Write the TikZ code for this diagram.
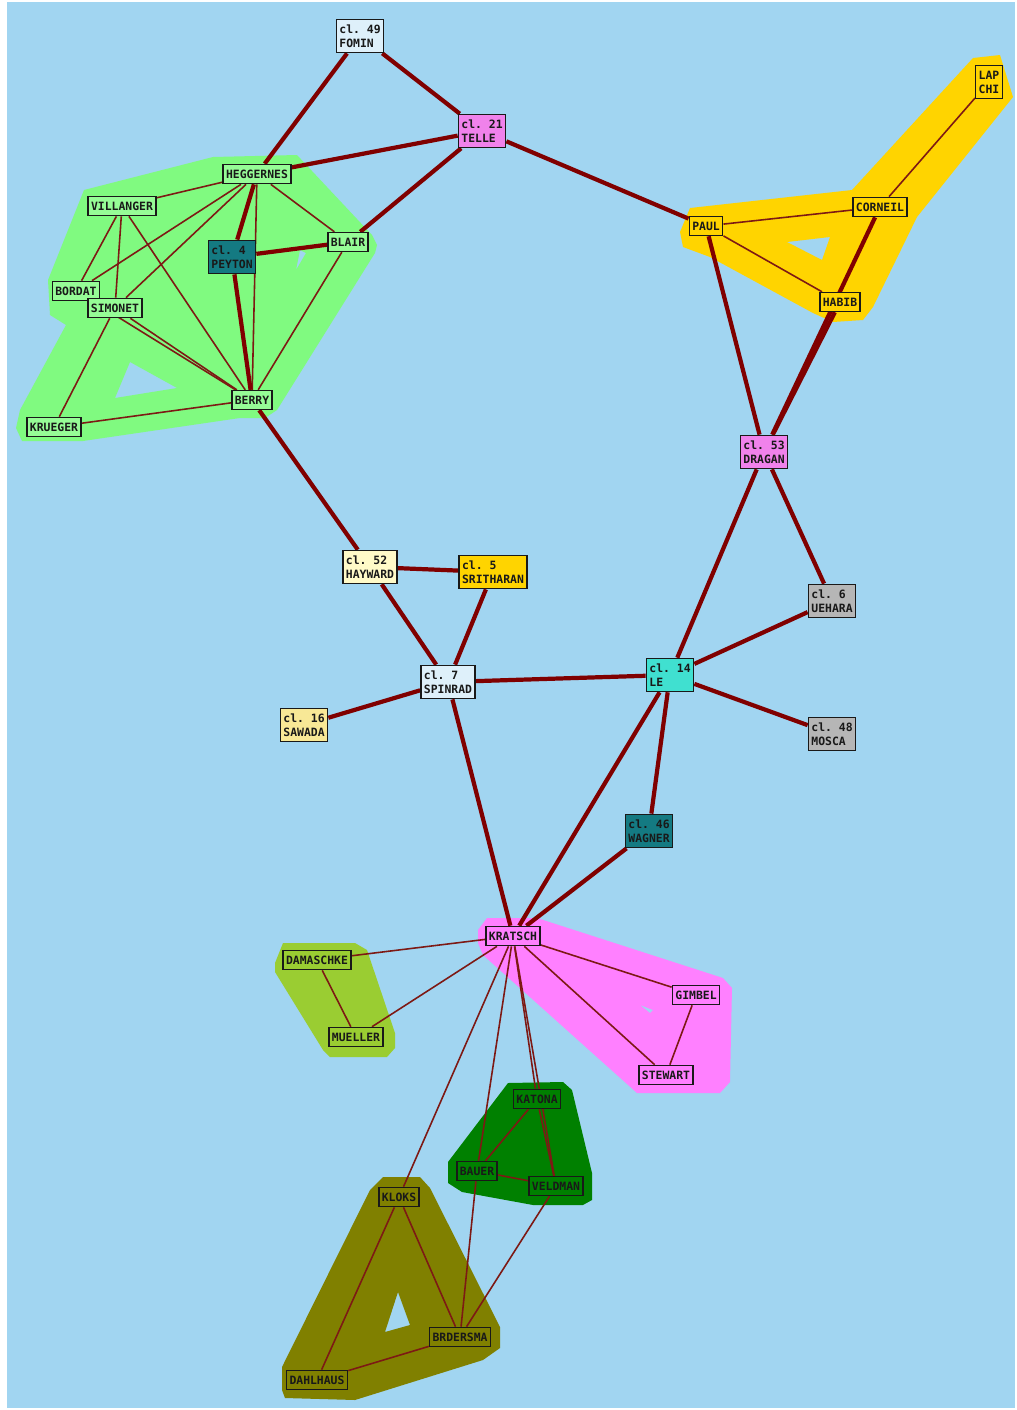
\documentclass[tikz,border=0pt]{standalone}
\usepackage{fontspec}
\setmonofont{DejaVu Sans Mono}
\usepackage{tikz}
\definecolor{cSky}{RGB}{161,213,241}
\definecolor{cLime}{RGB}{128,250,128}
\definecolor{cLimeBox}{RGB}{150,252,150}
\definecolor{cGold}{RGB}{255,212,0}
\definecolor{cRose}{RGB}{255,128,255}
\definecolor{cYGreen}{RGB}{154,205,50}
\definecolor{cDGreen}{RGB}{0,128,0}
\definecolor{cOlive}{RGB}{128,128,0}
\definecolor{cPale}{RGB}{222,240,250}
\definecolor{cMag}{RGB}{240,130,235}
\definecolor{cTeal}{RGB}{20,122,130}
\definecolor{cCream}{RGB}{255,250,200}
\definecolor{cSand}{RGB}{248,232,150}
\definecolor{cGrey}{RGB}{182,182,182}
\definecolor{cTurq}{RGB}{64,224,208}
\definecolor{cEdge}{RGB}{128,0,0}
\definecolor{cThin}{RGB}{125,25,20}
\definecolor{cInk}{RGB}{25,25,25}
\pgfdeclarelayer{hulls}
\pgfdeclarelayer{links}
\pgfsetlayers{hulls,links,main}

\begin{document}
\begin{tikzpicture}[x=0.02cm,y=-0.02cm,
  nbox/.style={draw=cInk,line width=0.85pt,text=cInk,inner xsep=1.7pt,inner ysep=3pt,
    align=left,font=\ttfamily\bfseries\fontsize{6.5}{7.9}\selectfont},
  ebig/.style={cEdge,line width=2.4pt},
  esmall/.style={cThin,line width=0.9pt}]
\useasboundingbox (0,0) rectangle (1017,1410);
\begin{pgfonlayer}{hulls}
\fill[white] (0,0) rectangle (1017,1410);
\fill[cSky] (7,2) rectangle (1015,1408);
% cluster hulls
\fill[cLime,even odd rule] (84,190) -- (213,157) -- (297,155) -- (372,235) -- (377,245) -- (375,253)
  -- (277,410) -- (265,418) -- (240,418) -- (83,441) -- (22,441) -- (16,428) -- (20,410)
  -- (66,325) -- (50,315) -- (48,280) -- cycle
  (130,362) -- (177,388) -- (115,398) -- cycle
  (300,250) -- (306,253) -- (296,270) -- cycle;
\fill[cGold,even odd rule] (680,232) -- (690,208) -- (852,190) -- (973,58) -- (1000,55) -- (1013,97)
  -- (917,217) -- (873,307) -- (863,320) -- (833,322) -- (813,313) -- (710,257) -- (683,247) -- cycle
  (787,242) -- (830,237) -- (822,260) -- cycle;
\fill[cRose,even odd rule] (478,930) -- (487,918) -- (537,918) -- (723,978) -- (732,988) -- (730,1082)
  -- (720,1093) -- (637,1093) -- (483,955) -- (478,943) -- cycle
  (640,1005) -- (653,1010) -- (650,1013) -- cycle;
\fill[cYGreen] (275,963) -- (283,943) -- (355,943) -- (367,950) -- (395,1033) -- (395,1048)
  -- (387,1057) -- (330,1057) -- (323,1050) -- (275,972) -- cycle;
\fill[cDGreen] (508,1083) -- (563,1082) -- (572,1090) -- (592,1173) -- (592,1200) -- (583,1205)
  -- (533,1205) -- (462,1192) -- (448,1183) -- (448,1162) -- cycle;
\fill[cOlive,even odd rule] (370,1190) -- (383,1177) -- (420,1177) -- (430,1188) -- (500,1327)
  -- (500,1348) -- (483,1360) -- (355,1400) -- (285,1398) -- (282,1390) -- (282,1367) -- cycle
  (398,1292) -- (410,1325) -- (385,1332) -- cycle;
\end{pgfonlayer}
% nodes
\node[nbox,fill=cPale] (fomin) at (360,36) {cl. 49\\FOMIN};
\node[nbox,fill=cMag] (telle) at (482,131) {cl. 21\\TELLE};
\node[nbox,fill=cLimeBox] (heggernes) at (257,174) {HEGGERNES};
\node[nbox,fill=cLimeBox] (villanger) at (122,206) {VILLANGER};
\node[nbox,fill=cTeal] (peyton) at (232,257) {cl. 4\\PEYTON};
\node[nbox,fill=cLimeBox] (blair) at (348,242) {BLAIR};
\node[nbox,fill=cLimeBox] (bordat) at (76,291) {BORDAT};
\node[nbox,fill=cLimeBox] (simonet) at (115,308) {SIMONET};
\node[nbox,fill=cLimeBox] (berry) at (252,400) {BERRY};
\node[nbox,fill=cLimeBox] (krueger) at (54,427) {KRUEGER};
\node[nbox,fill=cGold] (paul) at (706,226) {PAUL};
\node[nbox,fill=cGold] (corneil) at (880,207) {CORNEIL};
\node[nbox,fill=cGold] (lapchi) at (989,82) {LAP\\CHI};
\node[nbox,fill=cGold] (habib) at (840,302) {HABIB};
\node[nbox,fill=cMag] (dragan) at (764,452) {cl. 53\\DRAGAN};
\node[nbox,fill=cCream] (hayward) at (370,567) {cl. 52\\HAYWARD};
\node[nbox,fill=cGold] (sritharan) at (493,572) {cl. 5\\SRITHARAN};
\node[nbox,fill=cGrey] (uehara) at (832,601) {cl. 6\\UEHARA};
\node[nbox,fill=cPale] (spinrad) at (448,682) {cl. 7\\SPINRAD};
\node[nbox,fill=cTurq] (le) at (670,675) {cl. 14\\LE};
\node[nbox,fill=cSand] (sawada) at (304,725) {cl. 16\\SAWADA};
\node[nbox,fill=cGrey] (mosca) at (832,734) {cl. 48\\MOSCA};
\node[nbox,fill=cTeal] (wagner) at (649,831) {cl. 46\\WAGNER};
\node[nbox,fill=cRose] (kratsch) at (513,936) {KRATSCH};
\node[nbox,fill=cYGreen] (damaschke) at (317,960) {DAMASCHKE};
\node[nbox,fill=cYGreen] (mueller) at (356,1037) {MUELLER};
\node[nbox,fill=cRose] (gimbel) at (696,995) {GIMBEL};
\node[nbox,fill=cRose] (stewart) at (666,1075) {STEWART};
\node[nbox,fill=cDGreen] (katona) at (537,1099) {KATONA};
\node[nbox,fill=cDGreen] (bauer) at (477,1171) {BAUER};
\node[nbox,fill=cDGreen] (veldman) at (556,1186) {VELDMAN};
\node[nbox,fill=cOlive] (kloks) at (399,1197) {KLOKS};
\node[nbox,fill=cOlive] (broersma) at (460,1337) {BRDERSMA};
\node[nbox,fill=cOlive] (dahlhaus) at (317,1380) {DAHLHAUS};
\begin{pgfonlayer}{links}
% links inside clusters
\foreach \a/\b in {heggernes/villanger,heggernes/bordat,heggernes/simonet,heggernes/blair,
  heggernes/berry,villanger/bordat,villanger/simonet,villanger/berry,bordat/berry,simonet/berry,
  simonet/krueger,blair/berry,krueger/berry,paul/corneil,paul/habib,corneil/lapchi,
  kratsch/gimbel,kratsch/stewart,gimbel/stewart,damaschke/mueller,kratsch/damaschke,
  kratsch/mueller,kratsch/kloks,kratsch/bauer,kratsch/katona,kratsch/veldman,katona/bauer,
  katona/veldman,bauer/veldman,bauer/broersma,veldman/broersma,kloks/dahlhaus,kloks/broersma,
  dahlhaus/broersma}
  \draw[esmall] (\a) -- (\b);
% links between clusters
\foreach \a/\b in {fomin/heggernes,fomin/telle,telle/heggernes,telle/blair,telle/paul,
  heggernes/peyton,peyton/blair,peyton/berry,berry/hayward,paul/dragan,corneil/dragan,
  habib/dragan,dragan/le,dragan/uehara,hayward/sritharan,hayward/spinrad,sritharan/spinrad,
  spinrad/le,spinrad/sawada,spinrad/kratsch,le/uehara,le/mosca,le/wagner,le/kratsch,
  wagner/kratsch}
  \draw[ebig] (\a) -- (\b);
\end{pgfonlayer}
\end{tikzpicture}
\end{document}
